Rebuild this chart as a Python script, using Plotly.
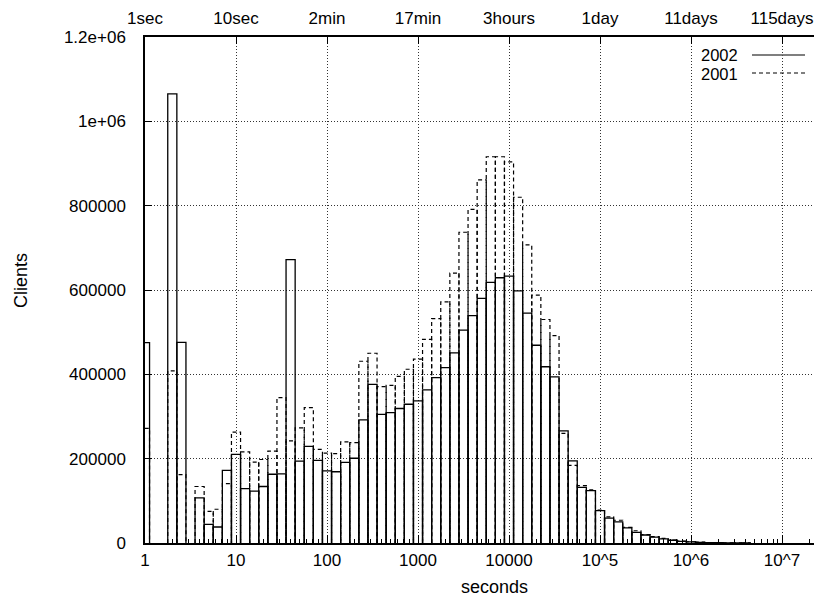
import plotly.graph_objects as go

# ---- data (log10 bin centres, seconds) ----
bin_exp = [0.0, 0.1, 0.2, 0.3, 0.4, 0.5, 0.6, 0.7, 0.8, 0.9,
           1.0, 1.1, 1.2, 1.3, 1.4, 1.5, 1.6, 1.7, 1.8, 1.9,
           2.0, 2.1, 2.2, 2.3, 2.4, 2.5, 2.6, 2.7, 2.8, 2.9,
           3.0, 3.1, 3.2, 3.3, 3.4, 3.5, 3.6, 3.7, 3.8, 3.9,
           4.0, 4.1, 4.2, 4.3, 4.4, 4.5, 4.6, 4.7, 4.8, 4.9,
           5.0, 5.1, 5.2, 5.3, 5.4, 5.5, 5.6, 5.7, 5.8, 5.9,
           6.0, 6.1, 6.2, 6.3, 6.4, 6.5, 6.6]

clients_2002 = [475000, 0, 0, 1065000, 476000, 0, 107000, 44000, 38000, 172000,
                210000, 129000, 123000, 134000, 163000, 164000, 672000, 194000, 229000, 196000,
                171000, 169000, 191000, 201000, 292000, 376000, 305000, 309000, 319000, 329000,
                337000, 363000, 392000, 416000, 451000, 505000, 539000, 580000, 618000, 629000,
                633000, 598000, 545000, 469000, 418000, 394000, 266000, 195000, 132000, 124000,
                77000, 59000, 50000, 36000, 25000, 19000, 14000, 10000, 6500, 4000,
                2500, 1500, 1000, 600, 400, 250, 150]

clients_2001 = [272000, 0, 0, 408000, 162000, 0, 134000, 75000, 80000, 141000,
                263000, 216000, 192000, 198000, 218000, 345000, 242000, 273000, 321000, 222000,
                213000, 212000, 240000, 238000, 431000, 450000, 371000, 374000, 395000, 412000,
                436000, 483000, 532000, 572000, 640000, 737000, 791000, 861000, 916000, 916000,
                904000, 820000, 707000, 588000, 530000, 492000, 260000, 184000, 136000, 126000,
                78000, 62000, 54000, 37000, 29000, 20000, 15000, 11000, 7000, 4500,
                3000, 2000, 1200, 800, 500, 300, 200]

tick_vals = [1, 10, 100, 1000, 10000, 1e5, 1e6, 1e7]
bottom_labels = ["1", "10", "100", "1000", "10000", "10^5", "10^6", "10^7"]
top_labels = ["1sec", "10sec", "2min", "17min", "3hours", "1day", "11days", "115days"]

y_vals = [0, 200000, 400000, 600000, 800000, 1000000, 1200000]
y_labels = ["0", "200000", "400000", "600000", "800000", "1e+06", "1.2e+06"]

series_names = ["2002", "2001"]

HALF = 0.05  # half bin width in decades


def box_path(exps, vals):
    xs, ys = [], []
    for e, v in zip(exps, vals):
        if v <= 0:
            continue
        lo, hi = 10 ** (e - HALF), 10 ** (e + HALF)
        xs += [lo, lo, hi, hi, None]
        ys += [0, v, v, 0, None]
    return xs, ys


# page body adds an 8px offset; layout numbers below are in figure coordinates
OFF = 8
W, H = 822, 599
ML, MR, MT, MB = 137, 0, 29, 64
PW, PH = W - ML - MR, H - MT - MB
DECADE_PX = 91.0


def px(x_screen):
    return (x_screen - OFF - ML) / PW


def py(y_screen):
    return (H - MB - (y_screen - OFF)) / PH


fig = go.Figure()

x1, y1 = box_path(bin_exp, clients_2001)
fig.add_trace(go.Scatter(x=x1, y=y1, mode="lines", name=series_names[1],
                         line=dict(color="black", width=1.2, dash="4px,3px"),
                         hoverinfo="skip"))
x2, y2 = box_path(bin_exp, clients_2002)
fig.add_trace(go.Scatter(x=x2, y=y2, mode="lines", name=series_names[0],
                         line=dict(color="black", width=1.3),
                         hoverinfo="skip"))
# invisible trace to activate the top axis
fig.add_trace(go.Scatter(x=[tick_vals[0]], y=[0], xaxis="x2", mode="markers",
                         marker=dict(opacity=0), hoverinfo="skip", showlegend=False))

xr = [0, PW / DECADE_PX]
font = dict(family="Liberation Sans, Arial, Helvetica, sans-serif", size=17, color="black")
grid_dash = "1px,2px"

fig.update_layout(
    width=W, height=H,
    margin=dict(l=ML, r=MR, t=MT, b=MB, autoexpand=False),
    plot_bgcolor="white", paper_bgcolor="white",
    font=font, showlegend=False,
    xaxis=dict(type="log", range=xr, tickvals=tick_vals, ticktext=bottom_labels,
               ticks="inside", ticklen=8, tickcolor="black", tickwidth=1,
               showline=True, linecolor="black", linewidth=1.5,
               showgrid=True, gridcolor="#333", griddash=grid_dash, gridwidth=1,
               minor=dict(ticks="inside", ticklen=4, tickcolor="black", dtick="D1", showgrid=False),
               zeroline=False, automargin=False, ticklabelstandoff=1),
    xaxis2=dict(type="log", range=xr, overlaying="x", side="top",
                tickvals=tick_vals, ticktext=top_labels,
                ticks="inside", ticklen=7, tickcolor="black",
                showline=True, linecolor="black", linewidth=1.5,
                showgrid=False, zeroline=False, automargin=False, ticklabelstandoff=4),
    yaxis=dict(range=[0, 1200000], tickvals=y_vals, ticktext=y_labels,
               ticks="inside", ticklen=7, tickcolor="black",
               showline=True, linecolor="black", linewidth=1.5, mirror=False,
               showgrid=True, gridcolor="#333", griddash=grid_dash, gridwidth=1,
               zeroline=False, automargin=False, ticklabelstandoff=14),
)

annotations = [
    dict(text="Clients", x=px(21), y=py(280), xref="paper", yref="paper",
         xanchor="center", yanchor="middle",
         textangle=-90, showarrow=False, font=dict(size=18)),
    dict(text="seconds", x=px(494), y=py(587), xref="paper", yref="paper",
         xanchor="center", yanchor="middle",
         showarrow=False, font=dict(size=18)),
    dict(text=series_names[0], x=px(739), y=py(54.5), xref="paper", yref="paper",
         xanchor="right", yanchor="middle", showarrow=False, borderpad=0,
         font=dict(size=16.5)),
    dict(text=series_names[1], x=px(739), y=py(73.5), xref="paper", yref="paper",
         xanchor="right", yanchor="middle", showarrow=False, borderpad=0,
         font=dict(size=16.5)),
]
fig.update_layout(annotations=annotations)

fig.add_shape(type="line", xref="paper", yref="paper",
              x0=px(752), x1=px(805), y0=py(55), y1=py(55),
              line=dict(color="#555", width=1.3))
fig.add_shape(type="line", xref="paper", yref="paper",
              x0=px(752), x1=px(805), y0=py(73), y1=py(73),
              line=dict(color="black", width=1.2, dash="4px,3px"))

fig.write_html("out.html")
